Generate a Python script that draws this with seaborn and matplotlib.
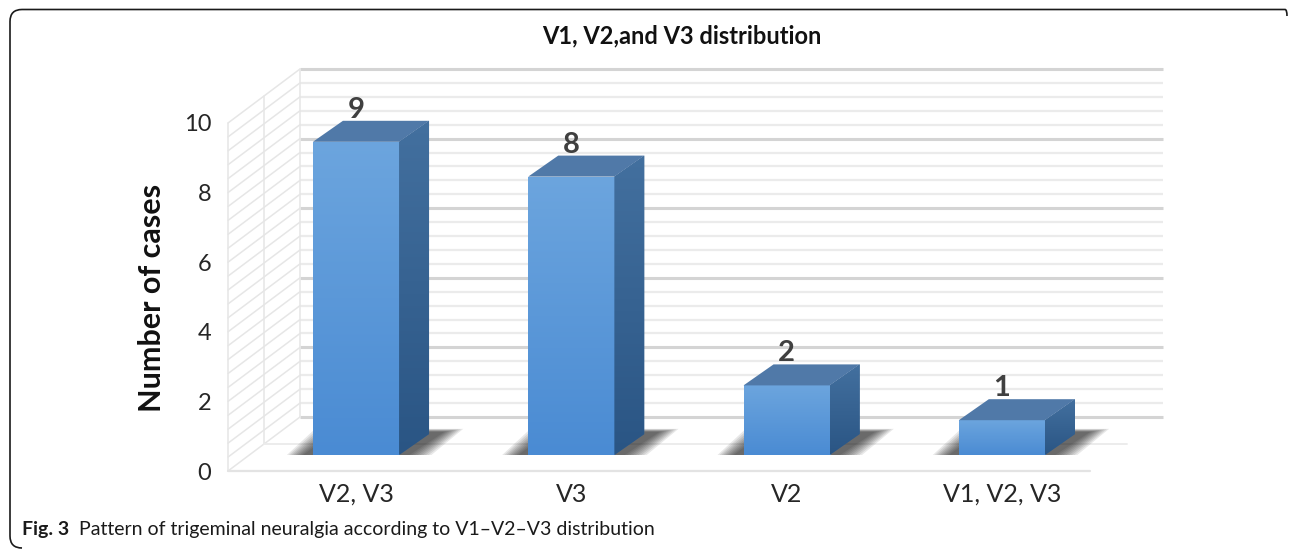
import numpy as np
import matplotlib
matplotlib.use("Agg")
import matplotlib.pyplot as plt
import matplotlib.colors as mcolors
from matplotlib.patches import Polygon, PathPatch
from matplotlib.path import Path
import seaborn as sns

# ---------------- data ----------------
categories = ["V2, V3", "V3", "V2", "V1, V2, V3"]
cases = [9, 8, 2, 1]
y_ticks = [0, 2, 4, 6, 8, 10]
minor_step = 0.4
title = "V1, V2,and V3 distribution"
y_label = "Number of cases"
caption_bold = "Fig. 3"
caption_text = "Pattern of trigeminal neuralgia according to V1\u2013V2\u2013V3 distribution"

# ---------------- style ----------------
W, H = 1292, 550
sns.set_theme(style="white")
plt.rcParams['font.family'] = ['Lato', 'DejaVu Sans']
TXT = '#262626'

fig = plt.figure(figsize=(W / 100, H / 100), dpi=100)


def rect(x0, y_top, x1, y_bot):
    return [x0 / W, 1 - y_bot / H, (x1 - x0) / W, (y_bot - y_top) / H]


# scene axes (pixel coordinates) for frame + walls
scene = fig.add_axes([0, 0, 1, 1], zorder=0)
scene.set_xlim(0, W)
scene.set_ylim(H, 0)
scene.axis('off')

# frame (top + left edges with rounded corners)
r = 12
verts = [(1287, 16), (1287, 9.5 + 0), (1287 - 2, 9.5), (10 + r, 9.5), (10, 9.5), (10, 9.5 + r),
         (10, 548 - r), (10, 548), (10 + r, 548)]
codes = [Path.MOVETO, Path.CURVE3, Path.CURVE3, Path.LINETO, Path.CURVE3, Path.CURVE3,
         Path.LINETO, Path.CURVE3, Path.CURVE3]
scene.add_patch(PathPatch(Path(verts, codes), fill=False, lw=1.2, edgecolor='#1a1a1a'))

# 3D box geometry (pixels)
FX, MX, BX = 228, 264, 300
RXF, RXM, RXB = 1090, 1127, 1163
Y0F, Y0M, Y0B = 471, 444, 417
PPU = 34.8
vmax = y_ticks[-1]


def yf(v):
    return Y0F - PPU * v


def yb(v):
    return Y0B - PPU * v


def ym(v):
    return Y0M - PPU * v


minor_vals = np.round(np.arange(0, vmax + 1e-9, minor_step), 3)
MAJ_C, MIN_C = '#d4d4d4', '#ebebeb'
for v in minor_vals:
    is_major = any(abs(v - t) < 1e-6 for t in y_ticks)
    c = MAJ_C if is_major else MIN_C
    lw = 2.2 if is_major else 1.6
    scene.plot([BX, RXB], [yb(v), yb(v)], color=c, lw=lw, zorder=1, solid_capstyle='butt')
    scene.plot([FX, BX], [yf(v), yb(v)], color='#e6e6e6', lw=1.1, zorder=1)
# side wall verticals
for x, f in [(FX, yf), (MX, ym), (BX, yb)]:
    scene.plot([x, x], [f(0), f(vmax)], color='#e6e6e6', lw=1.1, zorder=1)
# floor lines
scene.plot([FX, RXF], [Y0F, Y0F], color='#e3e3e3', lw=1.6, zorder=1)
scene.plot([MX, RXM], [Y0M, Y0M], color='#ececec', lw=1.4, zorder=1)

# front y axis (tick labels only)
ax_front = fig.add_axes(rect(FX, yf(vmax), FX + 1, yf(0)), zorder=1)
ax_front.set_ylim(0, vmax)
ax_front.set_yticks(y_ticks)
ax_front.set_xticks([])
for s in ax_front.spines.values():
    s.set_visible(False)
ax_front.patch.set_alpha(0)
ax_front.tick_params(axis='y', length=0, pad=12, labelsize=17, labelcolor=TXT)

# bar axes
spacing = 215.3
c0 = 356
ax = fig.add_axes(rect(c0 - spacing / 2, 455 - PPU * 11, c0 - spacing / 2 + spacing * len(categories), 455),
                  zorder=2)
ax.patch.set_alpha(0)
sns.barplot(x=categories, y=cases, color='#5b9bdf', width=0.4, linewidth=0, ax=ax)
ax.set_xlim(-0.5, len(categories) - 0.5)
ax.set_ylim(0, 11)
ax.set_yticks([])
for s in ax.spines.values():
    s.set_visible(False)
ax.tick_params(axis='x', length=0, pad=20, labelsize=18, labelcolor=TXT)
ax.set_xlabel('')
ax.set_ylabel('')

dx = 30 / spacing
dy = 21 / PPU
grad = np.linspace(0, 1, 256).reshape(-1, 1)
front_cmap = mcolors.LinearSegmentedColormap.from_list('f', ['#4a8bd3', '#6ca5de'])
side_cmap = mcolors.LinearSegmentedColormap.from_list('s', ['#2a5584', '#43709f'])

for bar, val in zip(list(ax.patches), cases):
    x0 = bar.get_x()
    x1 = x0 + bar.get_width()
    h = bar.get_height()
    # shadow
    for k in range(9, 0, -1):
        g = 0.011 * k
        sh = Polygon([(x0 - 0.05 - g, -0.06 - g * 1.0), (x1 + 0.02 + g, -0.06 - g * 1.0),
                      (x1 + dx + 0.06 + g, dy + 0.05 + g), (x0 + dx - 0.03 - g, dy + 0.05 + g)],
                     closed=True, facecolor='black', edgecolor='none', alpha=0.09, zorder=1)
        ax.add_patch(sh)
    # front gradient
    bar.set_zorder(3)
    im = ax.imshow(grad, cmap=front_cmap, extent=(x0, x1, 0, h), origin='lower',
                   aspect='auto', zorder=3.1, interpolation='bilinear')
    im.set_clip_path(bar)
    # side face
    side = Polygon([(x1, 0), (x1 + dx, dy), (x1 + dx, h + dy), (x1, h)], closed=True,
                   facecolor='#36628f', edgecolor='none', zorder=3)
    ax.add_patch(side)
    ims = ax.imshow(grad, cmap=side_cmap, extent=(x1, x1 + dx, 0, h + dy), origin='lower',
                    aspect='auto', zorder=3.1, interpolation='bilinear')
    ims.set_clip_path(side)
    # top face
    top = Polygon([(x0, h), (x1, h), (x1 + dx, h + dy), (x0 + dx, h + dy)], closed=True,
                  facecolor='#5079a8', edgecolor='none', zorder=3.2)
    ax.add_patch(top)
    # value label
    ax.annotate(f"{val}", xy=(x0 + (x1 - x0) / 2, h + dy), xytext=(0, -1.5), textcoords='offset points',
                ha='center', va='bottom', fontsize=21, fontweight='bold', color='#404040', zorder=4)

ax.set_xlim(-0.5, len(categories) - 0.5)
ax.set_ylim(0, 11)

# titles
fig.text(682 / W, 1 - 36 / H, title, ha='center', va='center', fontsize=17, fontweight='bold', color='#111111')
fig.text(152 / W, 1 - 298 / H, y_label, ha='center', va='center', rotation=90, fontsize=22,
         fontweight='bold', color='#111111')

# caption
cap_font = ['Lato', 'DejaVu Sans']
t1 = fig.text(22 / W, 1 - 530 / H, caption_bold, ha='left', va='center', fontsize=14, fontweight='bold',
              family=cap_font, color='#1a1a1a')
scene.annotate(caption_text, xy=(1, 0.5), xycoords=t1, xytext=(7, 0), textcoords='offset points',
               ha='left', va='center', fontsize=14, family=cap_font, color='#1a1a1a')

fig.savefig('out.png', dpi=100, facecolor='white')
